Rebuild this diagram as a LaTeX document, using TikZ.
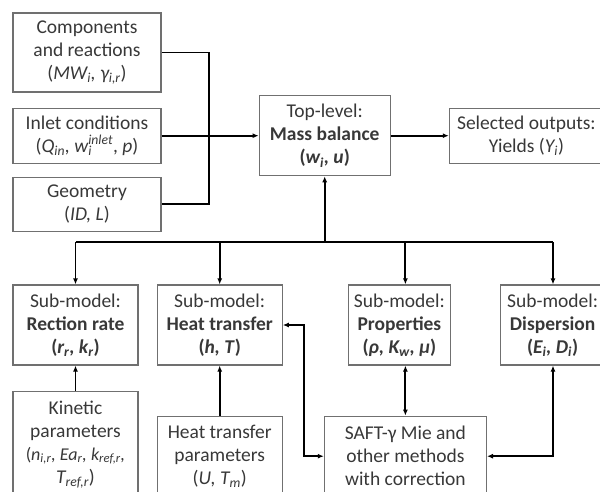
\documentclass[tikz,border=0pt]{standalone}
\usepackage{fontspec}
\setmainfont{Carlito}
\usepackage{xcolor}
\definecolor{textGrey}{HTML}{383838}
\definecolor{frameGrey}{HTML}{707070}
\usetikzlibrary{positioning,arrows.meta}
\tikzset{%
  flowBox/.style={%
    rectangle,
    draw=frameGrey,
    line width=1.2pt,
    text=textGrey,
    font=\fontsize{19.5}{23}\selectfont,
    align=center,
    inner sep=1pt,
    minimum height=80pt
  },
  arrowLine/.style={%
    -{Latex[length=6pt,width=5pt]},
    line width=1.9pt,
    color=black
  },
  bothLine/.style={%
    {Latex[length=6pt,width=5pt]}-{Latex[length=6pt,width=5pt]},
    line width=1.9pt,
    color=black
  },
  plainLine/.style={%
    line width=1.9pt,
    color=black
  }
}

\begin{document}
\begin{tikzpicture}[x=1pt,y=-1pt]
  \useasboundingbox (0,0) rectangle (600,491);
  \clip (0,0) rectangle (600,491);

  % inputs
  \node[flowBox, minimum width=148pt, minimum height=79pt] (comp) at (87,52.5) {Components\\and reactions\\({\itshape MW\textsubscript{i}, γ\textsubscript{i,r}})};
  \node[flowBox, minimum width=148pt, minimum height=55pt, below=15pt of comp] (inlet) {Inlet conditions\\({\itshape Q\textsubscript{in}, w\rlap{\textsubscript{i}}\textsuperscript{inlet}}, \textit{p})};
  \node[flowBox, minimum width=148pt, minimum height=54pt, below=13pt of inlet] (geom) {Geometry\\({\itshape ID, L})};

  % top level and output
  \node[flowBox, minimum width=131pt, right=97pt of inlet] (top) {Top-level:\\\textbf{Mass balance}\\\textbf{(\textit{w\textsubscript{i}, u})}};
  \node[flowBox, minimum width=154pt, minimum height=55pt, right=58pt of top] (out) {Selected outputs:\\Yields (\textit{Y\textsubscript{i}})};

  % sub-models
  \node[flowBox, minimum width=125pt] (rate) at (75.5,325) {Sub-model:\\\textbf{Rection rate}\\\textbf{(\textit{r\textsubscript{r}, k\textsubscript{r}})}};
  \node[flowBox, minimum width=125pt, right=18pt of rate] (heat) {Sub-model:\\\textbf{Heat transfer}\\\textbf{(\textit{h, T})}};
  \node[flowBox, minimum width=102pt, right=65pt of heat] (prop) {Sub-model:\\\textbf{Properties}\\\textbf{(\textit{ρ, K\textsubscript{w}, μ})}};
  \node[flowBox, minimum width=104pt, right=49pt of prop] (disp) {Sub-model:\\\textbf{Dispersion}\\\textbf{(\textit{E\textsubscript{i}, D\textsubscript{i}})}};

  % parameters
  \node[flowBox, minimum width=125pt, minimum height=106pt, below=25pt of rate] (kin) {Kinetic\\parameters\\{\fontsize{18}{23}\selectfont({\itshape n\textsubscript{i,r}, Ea\textsubscript{r}, k\textsubscript{ref,r},}}\\{\itshape T\textsubscript{ref,r}})};
  \node[flowBox, minimum width=125pt, below=50pt of heat] (htp) {Heat transfer\\parameters\\({\itshape U, T\textsubscript{m}})};
  \node[flowBox, minimum width=162pt, right=41pt of htp] (saft) {SAFT-γ Mie and\\other methods\\with correction};

  \coordinate (join) at (209,135);
  \coordinate (bus) at (0,242);
  \coordinate (dispLink) at (553,0);

  \draw[plainLine] (comp.east) -| (join) |- (geom.east);
  \draw[arrowLine] (inlet.east) -- (top.west);
  \draw[arrowLine] (top.east) -- (out.west);

  \draw[plainLine] (rate.north |- bus) -- (dispLink |- bus);
  \draw[arrowLine] (top.south |- bus) -- (top.south);
  \draw[arrowLine] (rate.north |- bus) -- (rate.north);
  \draw[arrowLine] (heat.north |- bus) -- (heat.north);
  \draw[arrowLine] (saft.north |- bus) -- (saft.north |- prop.north);
  \draw[arrowLine] (dispLink |- bus) -- (dispLink |- disp.north);

  \draw[arrowLine] (kin.north) -- (rate.south);
  \draw[arrowLine] (htp.north) -- (heat.south);
  \draw[bothLine] (saft.north) -- (saft.north |- prop.south);
  \draw[bothLine] (dispLink |- disp.south) |- (saft.east);
  \draw[bothLine] (heat.east) -- ++(21,0) |- (saft.west);
\end{tikzpicture}
\end{document}
